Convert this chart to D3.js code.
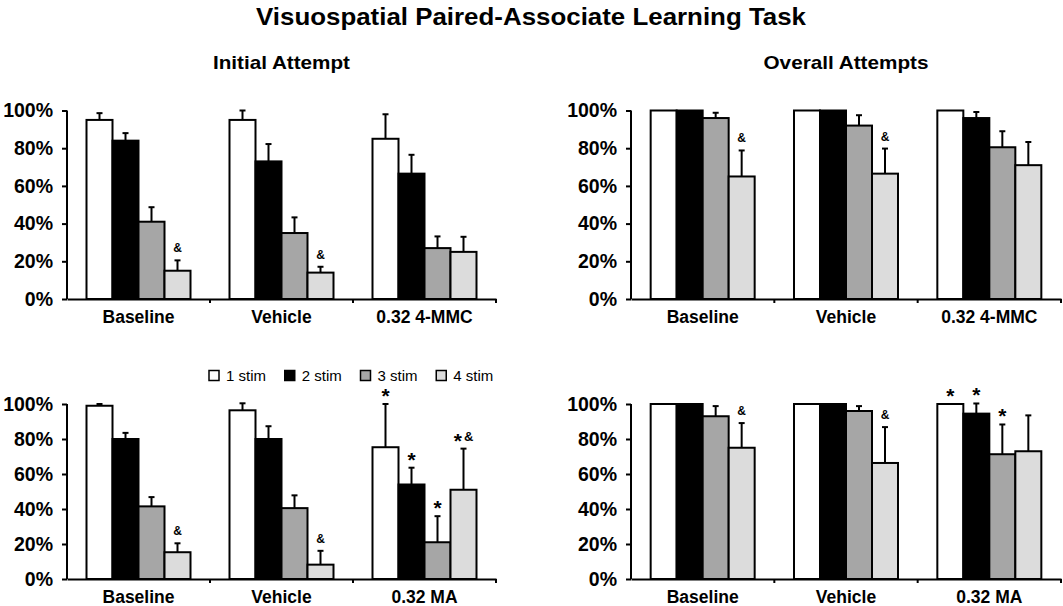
<!DOCTYPE html>
<html><head><meta charset="utf-8">
<script src="https://cdn.jsdelivr.net/npm/d3@7"></script>
<style>body{margin:0;background:#fff}svg{display:block}</style>
</head><body>
<svg id="chart" width="1063" height="606"></svg>
<script>
// ---------- data ----------
const stimuli = ["1 stim", "2 stim", "3 stim", "4 stim"];
const groupsTop = ["Baseline", "Vehicle", "0.32 4-MMC"];
const groupsBottom = ["Baseline", "Vehicle", "0.32 MA"];
const yTicks = [0, 20, 40, 60, 80, 100];

// Initial attempt, 4-MMC study (rows: groups, cols: stimuli)
const initMMCMean = [[95, 84, 41, 15], [95, 73, 35, 14], [85, 66.5, 27, 25]];
const initMMCErr  = [[3.6, 4, 7.7, 5.5], [5, 9.2, 8.3, 3.1], [13, 10, 6.2, 8]];
const initMMCAnn  = [["", "", "", "&"], ["", "", "", "&"], ["", "", "", ""]];

// Overall attempts, 4-MMC study
const overMMCMean = [[100, 100, 96, 65], [100, 100, 92, 66.5], [100, 96, 80.5, 71]];
const overMMCErr  = [[0, 0, 2.8, 13.8], [0, 0, 5.5, 13.3], [0, 3.2, 8.5, 12.3]];
const overMMCAnn  = [["", "", "", "&"], ["", "", "", "&"], ["", "", "", ""]];

// Initial attempt, MA study
const initMAMean = [[99, 80, 41.5, 15.3], [96.4, 80, 40.5, 8.2], [75.3, 54, 21, 51]];
const initMAErr  = [[1, 3.5, 5.3, 5.1], [4, 7.3, 7.3, 7.9], [24.7, 9.6, 14.9, 23.5]];
const initMAAnn  = [["", "", "", "&"], ["", "", "", "&"], ["*", "*", "*", "*&"]];

// Overall attempts, MA study
const overMAMean = [[100, 100, 93, 75], [100, 100, 96, 66.3], [100, 94.5, 71.3, 73]];
const overMAErr  = [[0, 0, 5.8, 14.1], [0, 0, 2.8, 20.5], [0, 5.8, 17, 20.5]];
const overMAAnn  = [["", "", "", "&"], ["", "", "", "&"], ["*", "*", "*", ""]];

const fills = ["#ffffff", "#000000", "#a6a6a6", "#dcdcdc"];
const FONT = "'Liberation Sans', Arial, Helvetica, sans-serif";

// ---------- layout ----------
const svg = d3.select("#chart");
const panels = [
  {mean: initMMCMean, err: initMMCErr, ann: initMMCAnn, groups: groupsTop, x0: 67, x1: 496, yB: 299, yT: 110.5},
  {mean: overMMCMean, err: overMMCErr, ann: overMMCAnn, groups: groupsTop, x0: 631, x1: 1061, yB: 299, yT: 110.5},
  {mean: initMAMean, err: initMAErr, ann: initMAAnn, groups: groupsBottom, x0: 67, x1: 496, yB: 579, yT: 404},
  {mean: overMAMean, err: overMAErr, ann: overMAAnn, groups: groupsBottom, x0: 631, x1: 1061, yB: 579, yT: 404}
];

// titles
svg.append("text").attr("x", 531).attr("y", 25).attr("text-anchor", "middle")
  .attr("font-family", FONT).attr("font-weight", "bold").attr("font-size", 24)
  .attr("textLength", 550).attr("lengthAdjust", "spacingAndGlyphs")
  .text("Visuospatial Paired-Associate Learning Task");
svg.append("text").attr("x", 281.5).attr("y", 68.5).attr("text-anchor", "middle")
  .attr("font-family", FONT).attr("font-weight", "bold").attr("font-size", 19)
  .attr("textLength", 137).attr("lengthAdjust", "spacingAndGlyphs")
  .text("Initial Attempt");
svg.append("text").attr("x", 846).attr("y", 68.5).attr("text-anchor", "middle")
  .attr("font-family", FONT).attr("font-weight", "bold").attr("font-size", 19)
  .attr("textLength", 165).attr("lengthAdjust", "spacingAndGlyphs")
  .text("Overall Attempts");

panels.forEach(p => {
  const g = svg.append("g");
  const x = d3.scaleBand().domain(p.groups).range([p.x0, p.x1]).paddingInner(0).paddingOuter(0);
  const bw = x.bandwidth();
  const xs = d3.scaleBand().domain(stimuli).range([(bw - 104) / 2, (bw + 104) / 2]).padding(0);
  const y = d3.scaleLinear().domain([0, 100]).range([p.yB, p.yT]);

  // bars
  p.groups.forEach((grp, gi) => {
    const gg = g.append("g").attr("transform", `translate(${x(grp)},0)`);
    stimuli.forEach((s, si) => {
      const v = p.mean[gi][si], e = p.err[gi][si];
      const bx = xs(s), w = xs.bandwidth(), cx = bx + w / 2;
      if (e > 0) {
        gg.append("line").attr("x1", cx).attr("x2", cx).attr("y1", y(v)).attr("y2", y(v + e))
          .attr("stroke", "#000").attr("stroke-width", 2);
        gg.append("line").attr("x1", cx - 3).attr("x2", cx + 3).attr("y1", y(v + e)).attr("y2", y(v + e))
          .attr("stroke", "#000").attr("stroke-width", 2);
      }
      gg.append("rect").attr("x", bx).attr("y", y(v)).attr("width", w).attr("height", y(0) - y(v))
        .attr("fill", fills[si]).attr("stroke", "#000").attr("stroke-width", 2);
      const a = p.ann[gi][si];
      if (a) {
        const ty = y(v + e);
        const t = gg.append("text").attr("x", cx).attr("text-anchor", "middle")
          .attr("font-family", FONT).attr("font-weight", "bold");
        if (a === "&") {
          t.attr("y", ty - 8).attr("font-size", 12).text("&");
        } else if (a === "*") {
          t.attr("y", ty - 1).attr("font-size", 21).text("*");
        } else {
          t.attr("y", ty - 8);
          t.append("tspan").attr("font-size", 21).attr("dy", 7).text("*");
          t.append("tspan").attr("font-size", 13).attr("dy", -7).attr("dx", 2).text("&");
        }
      }
    });
  });

  // y axis
  const ya = d3.axisLeft(y).tickValues(yTicks).tickFormat(d => d + "%").tickSize(5).tickSizeOuter(0);
  const yg = g.append("g").attr("transform", `translate(${p.x0},0)`).call(ya);
  yg.select(".domain").attr("stroke", "#000").attr("stroke-width", 2).attr("d", `M0,${p.yB}V${p.yT}`);
  yg.selectAll(".tick line").attr("stroke", "#000").attr("stroke-width", 2);
  yg.selectAll(".tick text").attr("x", -14).attr("font-family", FONT).attr("font-weight", "bold")
    .attr("font-size", 19.5).attr("fill", "#000");

  // x axis
  const xa = d3.axisBottom(x).tickSize(0).tickSizeOuter(0);
  const xg = g.append("g").attr("transform", `translate(0,${p.yB})`).call(xa);
  xg.select(".domain").attr("stroke", "#000").attr("stroke-width", 2);
  xg.selectAll(".tick text").attr("y", 24).attr("dy", 0).attr("font-family", FONT)
    .attr("font-weight", "bold").attr("font-size", 17.5).attr("fill", "#000");
  // boundary ticks
  const bounds = p.groups.map(d => x(d) + bw);
  xg.selectAll(".btick").data(bounds).join("line").attr("class", "btick")
    .attr("x1", d => d).attr("x2", d => d).attr("y1", 0).attr("y2", 4)
    .attr("stroke", "#000").attr("stroke-width", 2);
});

// legend
const legX = d3.scaleBand().domain(stimuli).range([209, 512]);
const lg = svg.append("g");
stimuli.forEach((s, i) => {
  const lx = legX(s);
  lg.append("rect").attr("x", lx).attr("y", 370.5).attr("width", 10).attr("height", 10)
    .attr("fill", fills[i]).attr("stroke", "#000").attr("stroke-width", 1.5);
  lg.append("text").attr("x", lx + 17).attr("y", 381).attr("font-family", FONT)
    .attr("font-size", 15).attr("fill", "#000").text(s);
});
</script>
</body></html>
